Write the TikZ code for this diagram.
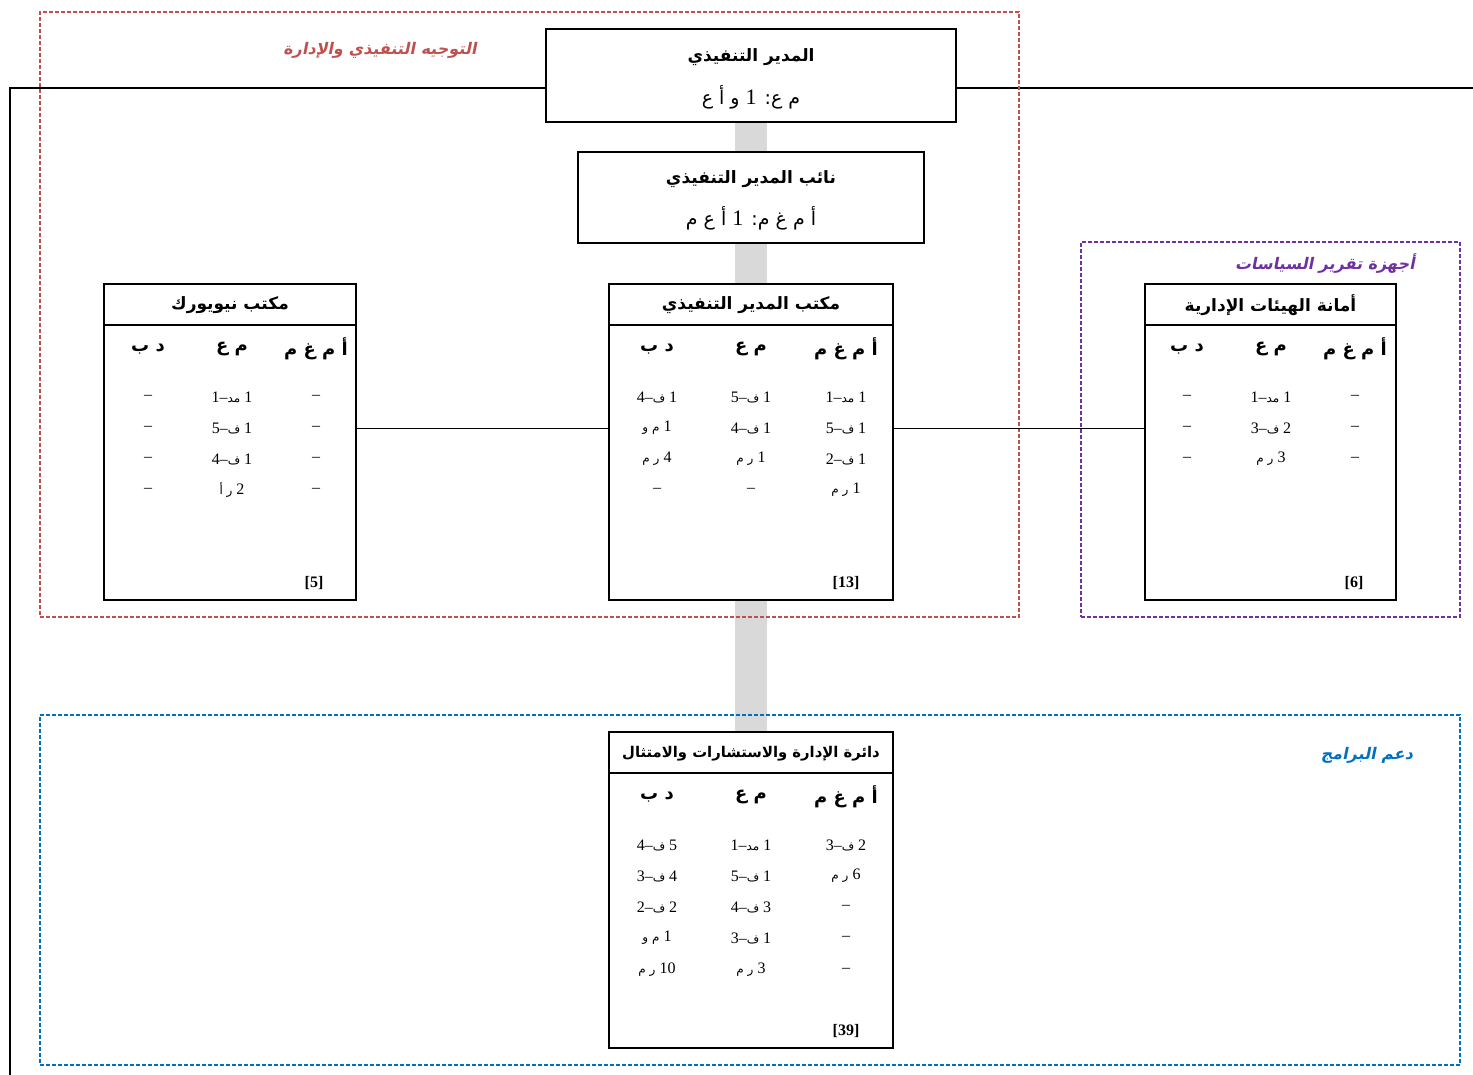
\documentclass[tikz,border=0pt]{standalone}
\usepackage{fontspec}
\setmainfont{Liberation Serif}
\newfontfamily\arabicfont[Script=Arabic]{DejaVu Sans}
\newfontfamily\arabicsl[Script=Arabic,FakeSlant=0.2]{DejaVu Sans Bold}
\TeXXeTstate=1
\usetikzlibrary{backgrounds}
\definecolor{grpred}{HTML}{C0504D}
\definecolor{grppur}{HTML}{7030A0}
\definecolor{grpblu}{HTML}{0070C0}
\definecolor{bargray}{HTML}{D9D9D9}
\newcommand\A[1]{{\arabicfont\fontsize{12}{14}\selectfont #1}}
\begin{document}
\begin{tikzpicture}[x=1pt,y=-1pt,
  box/.style={draw,line width=1.6pt,fill=white,inner sep=0pt},
  divline/.style={line width=1.6pt},
  grpbox/.style={line width=1.2pt,dash pattern=on 4pt off 2pt,inner sep=0pt},
  grplbl/.style={font=\arabicsl\fontsize{16}{20}\selectfont,inner sep=0pt},
  hdr/.style={font=\arabicfont\bfseries\fontsize{17}{20}\selectfont,inner sep=0pt},
  colh/.style={font=\arabicfont\bfseries\fontsize{18}{20}\selectfont,inner sep=0pt},
  cell/.style={font=\fontsize{16}{18}\selectfont,inner sep=0pt},
  foot/.style={font=\bfseries\fontsize{16}{18}\selectfont,inner sep=0pt},
  big/.style={font=\arabicfont\fontsize{19}{22}\selectfont,inner sep=0pt},
  conn/.style={line width=0.9pt},
  frame/.style={line width=1.4pt},
  bar/.style={draw=bargray,line width=32pt}]
\useasboundingbox (0,0) rectangle (1473,1075);

% group frames
\node[grpbox,draw=grpred,minimum width=979,minimum height=605] (gred) at (529.5,314.5) {};
\node[grpbox,draw=grppur,minimum width=379,minimum height=375] (gpur) at (1270.5,429.5) {};
\node[grpbox,draw=grpblu,minimum width=1420,minimum height=350] (gblu) at (750,890) {};
\node[grplbl,text=grpred] (lred) at (380,50) {\beginR التوجيه التنفيذي والإدارة\endR};
\node[grplbl,text=grppur] (lpur) at (1325,264) {\beginR أجهزة تقرير السياسات\endR};
\node[grplbl,text=grpblu] (lblu) at (1367,755) {\beginR دعم البرامج\endR};

% boxes
\node[box,minimum width=410,minimum height=93] (top) at (751,75.5) {};
\node[box,minimum width=346,minimum height=91] (dep) at (751,197.5) {};
\node[box,minimum width=252,minimum height=316] (ny) at (230,442) {};
\node[box,minimum width=284,minimum height=316] (exo) at (751,442) {};
\node[box,minimum width=251,minimum height=316] (sec) at (1270.5,442) {};
\node[box,minimum width=284,minimum height=316] (dept) at (751,890) {};

% background lines
\coordinate (tl) at (10,88);
\coordinate (tr) at (1473,88);
\coordinate (bl) at (10,1075);
\coordinate (mid) at (0,428);
\begin{scope}[on background layer]
  \draw[bar] (top.south) -- (dept.north);
  \draw[frame] (bl) -- (tl) -- (tr);
\end{scope}
\draw[conn] (ny.east |- mid) -- (exo.west |- mid);
\draw[conn] (exo.east |- mid) -- (sec.west |- mid);

% header dividers
\draw[divline] (ny.north west |- 0,325) -- (ny.north east |- 0,325);
\draw[divline] (exo.north west |- 0,325) -- (exo.north east |- 0,325);
\draw[divline] (sec.north west |- 0,325) -- (sec.north east |- 0,325);
\draw[divline] (dept.north west |- 0,773) -- (dept.north east |- 0,773);

% top boxes text
\node[hdr] (topa) at (751,57) {\beginR المدير التنفيذي\endR};
\node[big] (topb) at (751,97) {\beginR م ع: {\rmfamily\fontsize{22}{24}\selectfont 1} و أ ع\endR};
\node[hdr] (depa) at (751,179) {\beginR نائب المدير التنفيذي\endR};
\node[big] (depb) at (751,218) {\beginR أ م غ م: {\rmfamily\fontsize{22}{24}\selectfont 1} أ ع م\endR};

% New York office
\node[hdr] (nyh) at (230,305) {\beginR مكتب نيويورك\endR};
\node[colh] (nyc1) at (148,349) {\beginR د ب\endR};
\node[colh] (nyc2) at (232,349) {\beginR م ع\endR};
\node[colh] (nyc3) at (316,349) {\beginR أ م غ م\endR};
\node[cell] (ny11) at (148,397) {–};
\node[cell] (ny12) at (232,397) {1–\A{مد} 1};
\node[cell] (ny13) at (316,397) {–};
\node[cell] (ny21) at (148,428) {–};
\node[cell] (ny22) at (232,428) {5–\A{ف} 1};
\node[cell] (ny23) at (316,428) {–};
\node[cell] (ny31) at (148,459) {–};
\node[cell] (ny32) at (232,459) {4–\A{ف} 1};
\node[cell] (ny33) at (316,459) {–};
\node[cell] (ny41) at (148,490) {–};
\node[cell] (ny42) at (232,490) {\A{\beginR ر أ\endR} 2};
\node[cell] (ny43) at (316,490) {–};
\node[foot] (nyf) at (314,583) {[5]};

% Executive Director office
\node[hdr] (exh) at (751,305) {\beginR مكتب المدير التنفيذي\endR};
\node[colh] (exc1) at (657,349) {\beginR د ب\endR};
\node[colh] (exc2) at (751,349) {\beginR م ع\endR};
\node[colh] (exc3) at (846,349) {\beginR أ م غ م\endR};
\node[cell] (ex11) at (657,397) {4–\A{ف} 1};
\node[cell] (ex12) at (751,397) {5–\A{ف} 1};
\node[cell] (ex13) at (846,397) {1–\A{مد} 1};
\node[cell] (ex21) at (657,428) {\A{\beginR م و\endR} 1};
\node[cell] (ex22) at (751,428) {4–\A{ف} 1};
\node[cell] (ex23) at (846,428) {5–\A{ف} 1};
\node[cell] (ex31) at (657,459) {\A{\beginR ر م\endR} 4};
\node[cell] (ex32) at (751,459) {\A{\beginR ر م\endR} 1};
\node[cell] (ex33) at (846,459) {2–\A{ف} 1};
\node[cell] (ex41) at (657,490) {–};
\node[cell] (ex42) at (751,490) {–};
\node[cell] (ex43) at (846,490) {\A{\beginR ر م\endR} 1};
\node[foot] (exf) at (846,583) {[13]};

% Secretariat
\node[hdr] (seh) at (1270.5,305) {\beginR أمانة الهيئات الإدارية\endR};
\node[colh] (sec1) at (1187,349) {\beginR د ب\endR};
\node[colh] (sec2) at (1271,349) {\beginR م ع\endR};
\node[colh] (sec3) at (1355,349) {\beginR أ م غ م\endR};
\node[cell] (se11) at (1187,397) {–};
\node[cell] (se12) at (1271,397) {1–\A{مد} 1};
\node[cell] (se13) at (1355,397) {–};
\node[cell] (se21) at (1187,428) {–};
\node[cell] (se22) at (1271,428) {3–\A{ف} 2};
\node[cell] (se23) at (1355,428) {–};
\node[cell] (se31) at (1187,459) {–};
\node[cell] (se32) at (1271,459) {\A{\beginR ر م\endR} 3};
\node[cell] (se33) at (1355,459) {–};
\node[foot] (sef) at (1354,583) {[6]};

% Division
\node[hdr,font=\arabicfont\bfseries\fontsize{14.8}{18}\selectfont] (dvh) at (751,754) {\beginR دائرة الإدارة والاستشارات والامتثال\endR};
\node[colh] (dvc1) at (657,797) {\beginR د ب\endR};
\node[colh] (dvc2) at (751,797) {\beginR م ع\endR};
\node[colh] (dvc3) at (846,797) {\beginR أ م غ م\endR};
\node[cell] (dv11) at (657,845) {4–\A{ف} 5};
\node[cell] (dv12) at (751,845) {1–\A{مد} 1};
\node[cell] (dv13) at (846,845) {3–\A{ف} 2};
\node[cell] (dv21) at (657,876) {3–\A{ف} 4};
\node[cell] (dv22) at (751,876) {5–\A{ف} 1};
\node[cell] (dv23) at (846,876) {\A{\beginR ر م\endR} 6};
\node[cell] (dv31) at (657,907) {2–\A{ف} 2};
\node[cell] (dv32) at (751,907) {4–\A{ف} 3};
\node[cell] (dv33) at (846,907) {–};
\node[cell] (dv41) at (657,938) {\A{\beginR م و\endR} 1};
\node[cell] (dv42) at (751,938) {3–\A{ف} 1};
\node[cell] (dv43) at (846,938) {–};
\node[cell] (dv51) at (657,970) {\A{\beginR ر م\endR} 10};
\node[cell] (dv52) at (751,970) {\A{\beginR ر م\endR} 3};
\node[cell] (dv53) at (846,970) {–};
\node[foot] (dvf) at (846,1031) {[39]};
\end{tikzpicture}
\end{document}
